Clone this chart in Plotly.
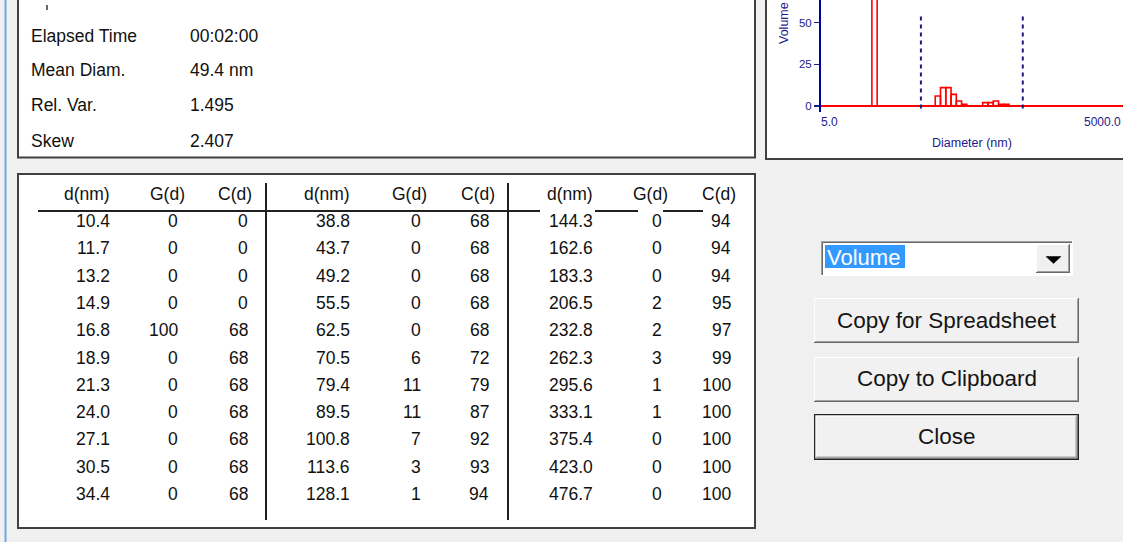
import math
import plotly.graph_objects as go

# ---------------- data ----------------
info_labels = ["Elapsed Time", "Mean Diam.", "Rel. Var.", "Skew"]
info_values = ["00:02:00", "49.4 nm", "1.495", "2.407"]

col_headers = ["d(nm)", "G(d)", "C(d)"]

d1 = [10.4, 11.7, 13.2, 14.9, 16.8, 18.9, 21.3, 24.0, 27.1, 30.5, 34.4]
g1 = [0, 0, 0, 0, 100, 0, 0, 0, 0, 0, 0]
c1 = [0, 0, 0, 0, 68, 68, 68, 68, 68, 68, 68]

d2 = [38.8, 43.7, 49.2, 55.5, 62.5, 70.5, 79.4, 89.5, 100.8, 113.6, 128.1]
g2 = [0, 0, 0, 0, 0, 6, 11, 11, 7, 3, 1]
c2 = [68, 68, 68, 68, 68, 72, 79, 87, 92, 93, 94]

d3 = [144.3, 162.6, 183.3, 206.5, 232.8, 262.3, 295.6, 333.1, 375.4, 423.0, 476.7]
g3 = [0, 0, 0, 2, 2, 3, 1, 1, 0, 0, 0]
c3 = [94, 94, 94, 95, 97, 99, 100, 100, 100, 100, 100]

cursor_diams = [48.0, 482.0]
y_tick_vals = [0, 25, 50]
x_end_labels = ["5.0", "5000.0"]
x_title = "Diameter (nm)"
y_title = "Volume"
dropdown_value = "Volume"
button_labels = ["Copy for Spreadsheet", "Copy to Clipboard", "Close"]

# ---------------- styling / layout constants ----------------
W, H = 1123, 542
BG = "#f0f0f0"
BORDER = "#404040"
NAVY = "#1c1c8c"
RED = "#ff0000"
FONT = "Liberation Sans, Arial, sans-serif"

shapes = []
annotations = []


def rect(x0, y0, x1, y1, fill=None, line=None, w=1.0, layer="below"):
    shapes.append(dict(type="rect", xref="x", yref="y", x0=x0, y0=y0, x1=x1, y1=y1,
                       fillcolor=fill if fill else "rgba(0,0,0,0)",
                       line=dict(color=line if line else "rgba(0,0,0,0)", width=w if line else 0),
                       layer=layer))


def seg(x0, y0, x1, y1, color, w=1.0, layer="below", dash="solid"):
    shapes.append(dict(type="line", xref="x", yref="y", x0=x0, y0=y0, x1=x1, y1=y1,
                       line=dict(color=color, width=w, dash=dash), layer=layer))


def text(x, y, s, size, color="#111111", xanchor="left", angle=0, bg=None):
    annotations.append(dict(x=x, y=y, xref="x", yref="y", text=s, showarrow=False,
                            xanchor=xanchor, yanchor="middle", textangle=angle,
                            font=dict(family=FONT, size=size, color=color),
                            bgcolor=bg if bg else "rgba(0,0,0,0)", borderpad=0))


# window edge
seg(5.5, 0, 5.5, H, "#6fa6e6", w=2)

# panels
rect(18, -6, 755, 157.5, fill="white", line=BORDER, w=2)
rect(766, -6, 1135, 159, fill="white", line=BORDER, w=2)
rect(18, 174, 755, 528, fill="white", line=BORDER, w=2)

# info panel texts
info_y = [35.5, 69.5, 104.7, 141.3]
for lab, val, y in zip(info_labels, info_values, info_y):
    text(30, y, lab, 17.5)
    text(189, y, val, 17.5)
# cut-off glyph remnant of the line above
seg(47, 5, 47, 10, "#333333", w=1.5)

# ---------------- table ----------------
groups = [(d1, g1, c1), (d2, g2, c2), (d3, g3, c3)]
value_right = [[111, 179, 249], [351, 422, 490], [594, 663, 732]]
header_right = [[111, 186, 253], [351, 428, 496], [594, 669, 737]]
header_y = 193.5
row_y0, row_pitch = 221.0, 27.3

for gi, (dd, gg, cc) in enumerate(groups):
    for hi, h in enumerate(col_headers):
        text(header_right[gi][hi], header_y, h, 17.5, xanchor="right")
    for ri in range(len(dd)):
        y = row_y0 + ri * row_pitch
        cells = [f"{dd[ri]:.1f}", f"{gg[ri]:d}", f"{cc[ri]:d}"]
        for ci, s in enumerate(cells):
            text(value_right[gi][ci], y, s, 17.5, xanchor="right")

# table rules
seg(38, 211, 508, 211, "#202020", w=2)
for a, b in [(508, 540), (595, 638), (663, 703)]:
    seg(a, 211, b, 211, "#202020", w=2)
for xs in (266, 508):
    seg(xs, 183, xs, 520, "#202020", w=2)

# ---------------- dropdown ----------------
rect(821, 241, 1073, 276, fill="white")
seg(821, 241.5, 1073, 241.5, "#a0a0a0", w=1)
seg(821.5, 241, 821.5, 276, "#a0a0a0", w=1)
seg(822.5, 242.5, 1072, 242.5, "#696969", w=1)
seg(822.5, 242.5, 822.5, 275, "#696969", w=1)
seg(821, 275.5, 1073, 275.5, "#ffffff", w=1)
seg(1072.5, 241, 1072.5, 276, "#ffffff", w=1)
# arrow button
rect(1036, 244, 1070, 273, fill="#f0f0f0")
seg(1036, 244.5, 1070, 244.5, "#ffffff", w=1)
seg(1036.5, 244, 1036.5, 273, "#ffffff", w=1)
seg(1036, 272.5, 1070, 272.5, "#696969", w=1)
seg(1069.5, 244, 1069.5, 273, "#696969", w=1)
seg(1037, 271.5, 1069, 271.5, "#a0a0a0", w=1)
seg(1068.5, 245, 1068.5, 272, "#a0a0a0", w=1)
shapes.append(dict(type="path", xref="x", yref="y",
                   path="M 1046 256.5 L 1061 256.5 L 1053.5 263.5 Z",
                   fillcolor="black", line=dict(color="black", width=0.5), layer="below"))
# selection highlight
rect(825, 245, 905, 268, fill="#3399ff")
text(826, 257, dropdown_value, 22, color="white")


# ---------------- buttons ----------------
def button(y0, y1, label, ty, default=False):
    x0, x1 = 814, 1079
    rect(x0, y0, x1, y1, fill="#f1f1f1")
    off = 0
    if default:
        rect(x0 + 0.75, y0 + 0.75, x1 - 0.75, y1 - 0.75, line="#222222", w=1.5)
        off = 1.5
    a0, b0, a1, b1 = x0 + off, y0 + off, x1 - off, y1 - off
    seg(a0, b0 + 0.5, a1, b0 + 0.5, "#ffffff", w=1)
    seg(a0 + 0.5, b0, a0 + 0.5, b1, "#ffffff", w=1)
    seg(a0, b1 - 0.5, a1, b1 - 0.5, "#696969", w=1)
    seg(a1 - 0.5, b0, a1 - 0.5, b1, "#696969", w=1)
    seg(a0 + 1, b1 - 1.5, a1 - 1, b1 - 1.5, "#a0a0a0", w=1)
    seg(a1 - 1.5, b0 + 1, a1 - 1.5, b1 - 1, "#a0a0a0", w=1)
    text((x0 + x1) / 2, ty, label, 22.5, color="#151515", xanchor="center")


button(298, 343, button_labels[0], 320)
button(357, 402, button_labels[1], 378)
button(414, 460, button_labels[2], 436, default=True)

# ---------------- histogram (top-right chart) ----------------
d_all = d1 + d2 + d3
g_all = g1 + g2 + g3
n = len(d_all)
edges_lo, edges_hi = [], []
for i in range(n):
    lo = math.sqrt(d_all[i - 1] * d_all[i]) if i > 0 else d_all[0] / math.sqrt(d_all[1] / d_all[0])
    hi = math.sqrt(d_all[i] * d_all[i + 1]) if i < n - 1 else d_all[-1] * math.sqrt(d_all[-1] / d_all[-2])
    edges_lo.append(lo)
    edges_hi.append(hi)

bx, by = [], []
for lo, hi, g in zip(edges_lo, edges_hi, g_all):
    if g > 0:
        bx += [lo, lo, hi, hi, None]
        by += [0, g, g, 0, None]

x_min = 5.0
px_per_decade = 101.7
x_left_px = 821
k = 1.667          # px per volume unit
base_px = 106      # pixel row of volume 0
bottom_px = 112
x_range = [math.log10(x_min), math.log10(x_min) + (W - x_left_px) / px_per_decade]
y_range = [-(bottom_px - base_px) / k, base_px / k]

fig = go.Figure()

# invisible full-canvas trace to anchor the pixel axes
fig.add_trace(go.Scatter(x=[0, W], y=[0, H], mode="markers", marker=dict(opacity=0),
                         hoverinfo="skip", showlegend=False, xaxis="x", yaxis="y"))

fig.add_trace(go.Scatter(x=[x_min, 1e4], y=[0, 0], mode="lines",
                         line=dict(color=RED, width=2), hoverinfo="skip",
                         showlegend=False, xaxis="x2", yaxis="y2"))
fig.add_trace(go.Scatter(x=bx, y=by, mode="lines", line=dict(color=RED, width=1.6),
                         hoverinfo="skip", showlegend=False, xaxis="x2", yaxis="y2"))
for cd in cursor_diams:
    fig.add_trace(go.Scatter(x=[cd, cd], y=[-1.5, 56], mode="lines",
                             line=dict(color="#1a1a80", width=2, dash="4px,4px"),
                             hoverinfo="skip", showlegend=False, xaxis="x2", yaxis="y2"))

# axis texts of histogram
text(820, 122, x_end_labels[0], 12, color=NAVY)
text(1122, 122, x_end_labels[1], 12, color=NAVY, xanchor="right")
text(972, 143, x_title, 12.5, color=NAVY, xanchor="center")
text(784, 23, y_title, 12.5, color=NAVY, xanchor="center", angle=-90)

fig.update_layout(
    width=W, height=H, autosize=False,
    margin=dict(l=0, r=0, t=0, b=0, pad=0),
    paper_bgcolor=BG, plot_bgcolor="rgba(0,0,0,0)",
    showlegend=False,
    xaxis=dict(domain=[0, 1], range=[0, W], visible=False, fixedrange=True),
    yaxis=dict(domain=[0, 1], range=[H, 0], visible=False, fixedrange=True),
    xaxis2=dict(domain=[x_left_px / W, 1], anchor="y2", type="log", range=x_range,
                showgrid=False, zeroline=False, showline=False, showticklabels=False,
                ticks="", fixedrange=True),
    yaxis2=dict(domain=[(H - bottom_px) / H, 1], anchor="x2", range=y_range,
                showgrid=False, zeroline=False, showline=True, linecolor="#0000a0",
                linewidth=2, tickvals=y_tick_vals, ticks="outside", ticklen=5,
                tickcolor=NAVY, tickwidth=1.5,
                tickfont=dict(family=FONT, size=11.5, color=NAVY), fixedrange=True),
    shapes=shapes,
    annotations=annotations,
)

fig.write_html(
    "out.html",
    config={"displayModeBar": False, "staticPlot": True},
    post_script="document.body.style.margin='0';document.body.style.padding='0';"
                "document.body.style.overflow='hidden';",
)
